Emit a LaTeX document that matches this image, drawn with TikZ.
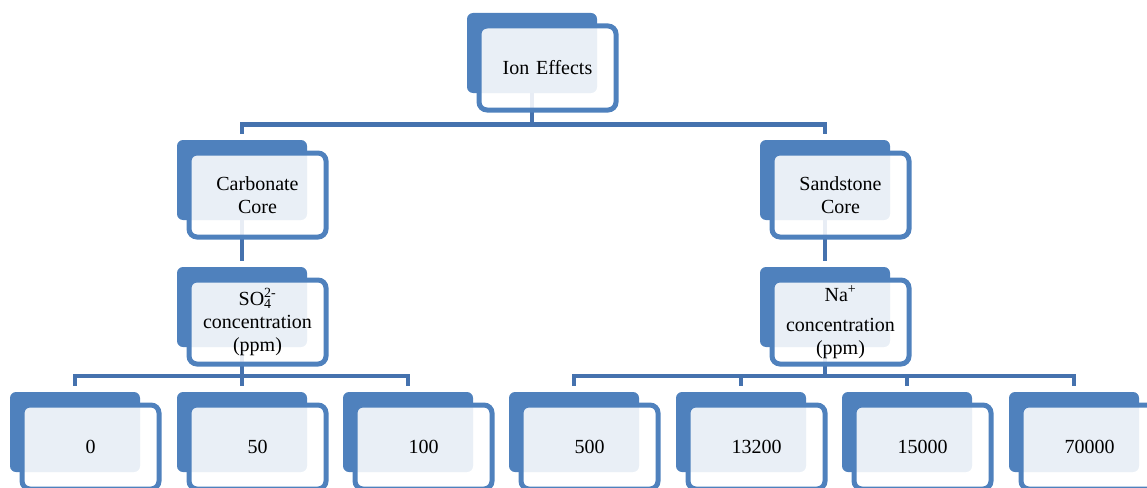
\documentclass[tikz,border=0pt]{standalone}
\usepackage{fontspec}
\setmainfont{Liberation Serif}
\usetikzlibrary{calc}
\pgfdeclarelayer{bg}
\pgfsetlayers{bg,main}
\definecolor{accent}{HTML}{4F81BD}
\definecolor{linec}{HTML}{4572AE}
\tikzset{
 backbox/.style={fill=accent, draw=none, rounded corners=6pt, minimum width=130pt, minimum height=80pt, inner sep=0pt},
 frontbox/.style={draw=accent, line width=5pt, fill=white, fill opacity=0.88, text opacity=1, rounded corners=8pt, minimum width=137pt, minimum height=84pt, align=center, text width=125pt, font=\fontsize{20}{23}\selectfont, inner sep=0pt},
 conn/.style={draw=linec, line width=4.5pt},
}
\newcommand\ionbox[4]{%
 \node[backbox] (#1b) at (#2,#3) {};
 \node[frontbox] (#1) at (#2+15.5,#3+15) {#4};}
\begin{document}
\begin{tikzpicture}[x=1pt,y=-1pt]
\useasboundingbox (0,0) rectangle (1147,487);
\begin{scope}
\clip (0,0) rectangle (1147,487);
\ionbox{ion}{532}{53}{Ion Effects}
\ionbox{carb}{242}{180}{Carbonate\\Core}
\ionbox{sand}{825}{180}{Sandstone\\Core}
\ionbox{so}{242}{307}{SO\rlap{\textsubscript{4}}\textsuperscript{2-}\\concentration\\(ppm)}
\ionbox{na}{825}{307}{Na\textsuperscript{+}\\[7pt]concentration\\(ppm)}
\ionbox{ba}{75}{432}{0}
\ionbox{bb}{242}{432}{50}
\ionbox{bc}{408}{432}{100}
\ionbox{bd}{574}{432}{500}
\ionbox{be}{741}{432}{13200}
\ionbox{bf}{907}{432}{15000}
\ionbox{bg}{1074}{432}{70000}
\end{scope}
\begin{pgfonlayer}{bg}
\coordinate (j0) at (533,124.7);
\coordinate (j1) at (0,376);
\draw[conn] (ionb.south) -- (ionb.south |- j0);
\draw[conn] ([yshift=6pt]carbb.north) -- (carbb.north |- j0) -- (sandb.north |- j0) -- ([yshift=6pt]sandb.north);
\draw[conn] (carbb.south) -- ([yshift=6pt]sob.north);
\draw[conn] (sandb.south) -- ([yshift=6pt]nab.north);
\draw[conn] (sob.south) -- ([yshift=6pt]bbb.north);
\draw[conn] ([yshift=6pt]bab.north) -- (bab.north |- j1) -- (bcb.north |- j1) -- ([yshift=6pt]bcb.north);
\draw[conn] (nab.south) -- (nab.south |- j1);
\draw[conn] ([yshift=6pt]bdb.north) -- (bdb.north |- j1) -- (bgb.north |- j1) -- ([yshift=6pt]bgb.north);
\draw[conn] (beb.north |- j1) -- ([yshift=6pt]beb.north);
\draw[conn] (bfb.north |- j1) -- ([yshift=6pt]bfb.north);
\end{pgfonlayer}
\end{tikzpicture}
\end{document}
